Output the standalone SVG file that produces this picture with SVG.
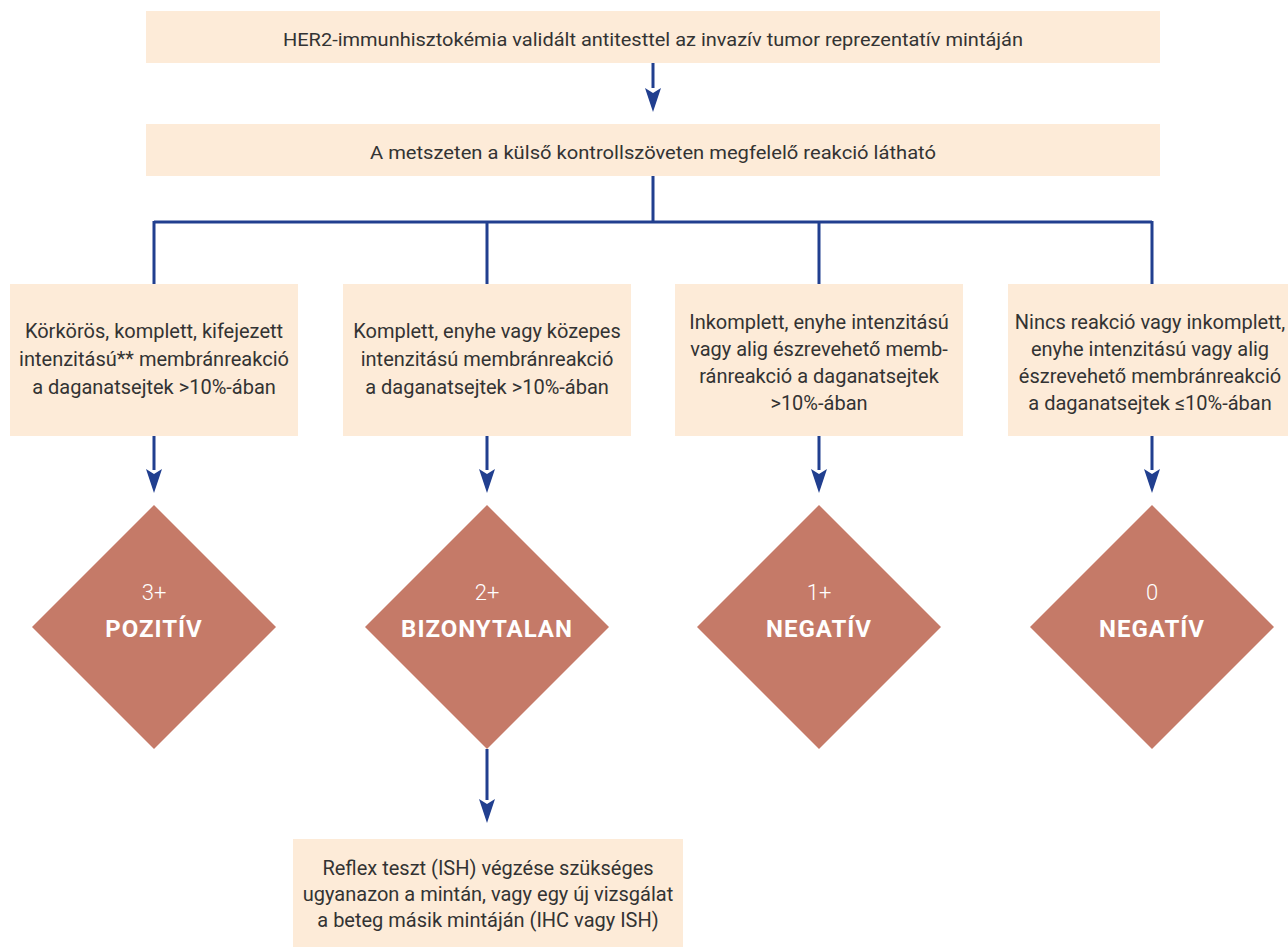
<svg xmlns="http://www.w3.org/2000/svg" width="1288" height="947" viewBox="0 0 1288 947">
<defs>
<style>
.box{fill:#fdebd8}
.dia{fill:#c57a68}
.t{font-family:Roboto,"Liberation Sans",sans-serif;font-size:20px;fill:#333;text-anchor:middle}
.t2{font-family:Roboto,"Liberation Sans",sans-serif;font-size:18px;fill:#333;text-anchor:middle}
.d1{font-family:Roboto,"Liberation Sans",sans-serif;font-size:22px;font-weight:300;fill:#fff;text-anchor:middle}
.d2{font-family:Roboto,"Liberation Sans",sans-serif;font-size:24px;font-weight:bold;fill:#fff;text-anchor:middle;letter-spacing:1px}
.c{stroke:#213f8f;stroke-width:3;fill:none}
.ah{fill:#213f8f}
</style>
</defs>
<rect width="1288" height="947" fill="#fff"/>
<g id="connectors">
<path class="c" d="M653,63 V88"/>
<path class="ah" d="M645,88 L653,93 L661,88 L653,112 Z"/>
<path class="c" d="M653,176 V222 M154,222 H1152 M154,221 V284 M487,221 V284 M819,221 V284 M1152,221 V284"/>
<path class="c" d="M154,436 V470 M487,436 V470 M819,436 V470 M1152,436 V470 M487,749 V800"/>
<path class="ah" d="M146,469 L154,474 L162,469 L154,493 Z"/>
<path class="ah" d="M479,469 L487,474 L495,469 L487,493 Z"/>
<path class="ah" d="M811,469 L819,474 L827,469 L819,493 Z"/>
<path class="ah" d="M1144,469 L1152,474 L1160,469 L1152,493 Z"/>
<path class="ah" d="M479,799 L487,804 L495,799 L487,823 Z"/>
</g>
<g id="n1"><rect class="box" x="146" y="11" width="1014" height="52"/><text class="t2" x="653" y="46" textLength="740" lengthAdjust="spacingAndGlyphs">HER2-immunhisztokémia validált antitesttel az invazív tumor reprezentatív mintáján</text></g>
<g id="n2"><rect class="box" x="146" y="124" width="1014" height="52"/><text class="t2" x="653" y="159" textLength="566" lengthAdjust="spacingAndGlyphs">A metszeten a külső kontrollszöveten megfelelő reakció látható</text></g>
<g id="b1"><rect class="box" x="10" y="284" width="288" height="152"/>
<text class="t" x="154" y="338">Körkörös, komplett, kifejezett</text>
<text class="t" x="154" y="366">intenzitású** membránreakció</text>
<text class="t" x="154" y="394">a daganatsejtek &gt;10%-ában</text></g>
<g id="b2"><rect class="box" x="343" y="284" width="288" height="152"/>
<text class="t" x="487" y="338">Komplett, enyhe vagy közepes</text>
<text class="t" x="487" y="366">intenzitású membránreakció</text>
<text class="t" x="487" y="394">a daganatsejtek &gt;10%-ában</text></g>
<g id="b3"><rect class="box" x="675" y="284" width="288" height="152"/>
<text class="t" x="819" y="329">Inkomplett, enyhe intenzitású</text>
<text class="t" x="819" y="356">vagy alig észrevehető memb-</text>
<text class="t" x="819" y="383">ránreakció a daganatsejtek</text>
<text class="t" x="819" y="410">&gt;10%-ában</text></g>
<g id="b4"><rect class="box" x="1008" y="284" width="290" height="152"/>
<text class="t" x="1150" y="329">Nincs reakció vagy inkomplett,</text>
<text class="t" x="1150" y="356">enyhe intenzitású vagy alig</text>
<text class="t" x="1150" y="383">észrevehető membránreakció</text>
<text class="t" x="1150" y="410">a daganatsejtek ≤10%-ában</text></g>
<g id="d1"><polygon class="dia" points="154,505 276,627 154,749 32,627"/><text class="d1" x="154" y="600">3+</text><text class="d2" x="154" y="637">POZITÍV</text></g>
<g id="d2"><polygon class="dia" points="487,505 609,627 487,749 365,627"/><text class="d1" x="487" y="600">2+</text><text class="d2" x="487" y="637">BIZONYTALAN</text></g>
<g id="d3"><polygon class="dia" points="819,505 941,627 819,749 697,627"/><text class="d1" x="819" y="600">1+</text><text class="d2" x="819" y="637">NEGATÍV</text></g>
<g id="d4"><polygon class="dia" points="1152,505 1274,627 1152,749 1030,627"/><text class="d1" x="1152" y="600">0</text><text class="d2" x="1152" y="637">NEGATÍV</text></g>
<g id="b5"><rect class="box" x="293" y="839" width="390" height="108"/>
<text class="t" x="488" y="875">Reflex teszt (ISH) végzése szükséges</text>
<text class="t" x="488" y="901">ugyanazon a mintán, vagy egy új vizsgálat</text>
<text class="t" x="488" y="927">a beteg másik mintáján (IHC vagy ISH)</text></g>
</svg>
